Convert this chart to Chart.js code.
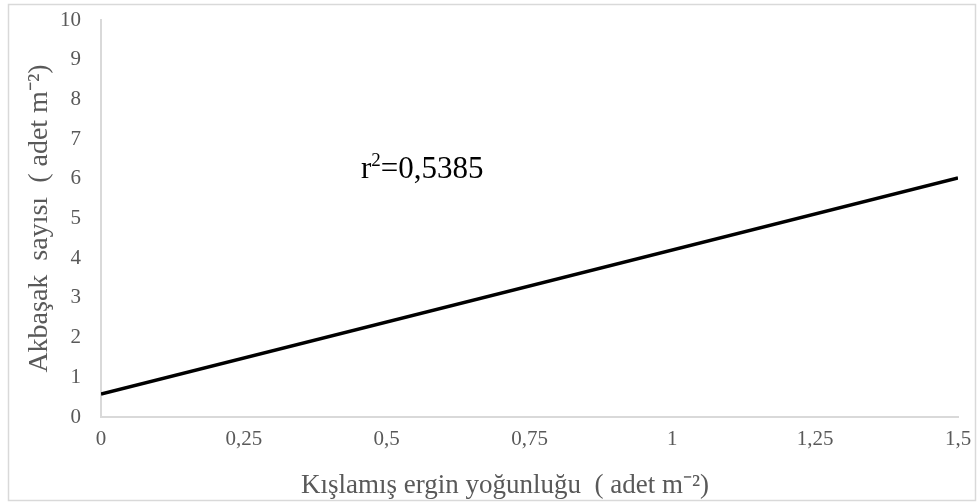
<!DOCTYPE html>
<html>
<head>
<meta charset="utf-8">
<script src="https://cdn.jsdelivr.net/npm/chart.js@4"></script>
<style>
  html, body { margin: 0; padding: 0; background: #fff; }
  #wrap { width: 979px; height: 504px; }
</style>
</head>
<body>
<div id="wrap"><canvas id="chart" width="979" height="504"></canvas></div>
<script>
// regression line end points
const xValues = [0, 1.5];
const yValues = [0.58, 6.02];

const xTickValues = [0, 0.25, 0.5, 0.75, 1, 1.25, 1.5];
const yTickValues = [0, 1, 2, 3, 4, 5, 6, 7, 8, 9, 10];

const r2Text = '0,5385';
const xTitle = 'Kışlamış ergin yoğunluğu  ( adet m⁻²)';
const yTitle = 'Akbaşak  sayısı  ( adet m⁻²)';

const serif = "'Liberation Serif', 'Times New Roman', serif";
const gray = '#595959';

const points = xValues.map((x, i) => ({ x: x, y: yValues[i] }));

const frame = {
    id: 'frame',
    beforeDraw(chart) {
        const ctx = chart.ctx;
        ctx.save();
        ctx.fillStyle = '#fff';
        ctx.fillRect(0, 0, chart.width, chart.height);
        ctx.strokeStyle = '#d9d9d9';
        ctx.lineWidth = 1.5;
        ctx.strokeRect(8.5, 4.5, 967, 496);
        ctx.restore();
    }
};

// x title sits a little left of the plot centre in the original
const xTitleLabel = {
    id: 'xTitleLabel',
    afterDraw(chart) {
        const ctx = chart.ctx;
        ctx.save();
        ctx.fillStyle = gray;
        ctx.font = '27px ' + serif;
        ctx.textAlign = 'center';
        ctx.textBaseline = 'middle';
        ctx.fillText(xTitle, 505, 486);
        ctx.restore();
    }
};

const r2Label = {
    id: 'r2Label',
    afterDatasetsDraw(chart) {
        const ctx = chart.ctx;
        const x = chart.scales.x.getPixelForValue(0.455);
        const y = chart.scales.y.getPixelForValue(6.02);
        ctx.save();
        ctx.fillStyle = '#000';
        ctx.textBaseline = 'alphabetic';
        ctx.font = '31px ' + serif;
        ctx.fillText('r', x, y);
        let w = ctx.measureText('r').width;
        ctx.font = '19px ' + serif;
        ctx.fillText('2', x + w, y - 12);
        w += ctx.measureText('2').width;
        ctx.font = '31px ' + serif;
        ctx.fillText('=' + r2Text, x + w, y);
        ctx.restore();
    }
};

new Chart(document.getElementById('chart'), {
    type: 'scatter',
    data: {
        datasets: [{
            data: points,
            showLine: true,
            borderColor: '#000',
            borderWidth: 3.5,
            pointRadius: 0,
            fill: false
        }]
    },
    options: {
        responsive: false,
        animation: false,
        layout: { padding: { left: 0, top: 20, right: 21, bottom: 0 } },
        plugins: { legend: { display: false }, tooltip: { enabled: false } },
        scales: {
            x: {
                type: 'linear',
                min: 0,
                max: 1.5,
                afterBuildTicks: s => { s.ticks = xTickValues.map(v => ({ value: v })); },
                afterFit: s => { s.height = 87; s.paddingLeft = 0; s.paddingRight = 0; },
                grid: { display: false, drawTicks: false },
                border: { display: true, color: '#d9d9d9', width: 2 },
                ticks: {
                    padding: 10,
                    color: gray,
                    font: { family: serif, size: 21 },
                    maxRotation: 0,
                    callback: v => String(v).replace('.', ',')
                },
                title: { display: false, text: xTitle }
            },
            y: {
                min: 0,
                max: 10,
                afterBuildTicks: s => { s.ticks = yTickValues.map(v => ({ value: v })); },
                afterFit: s => { s.width = 101; s.paddingTop = 0; s.paddingBottom = 0; },
                grid: { display: false, drawTicks: false },
                border: { display: true, color: '#d9d9d9', width: 2 },
                ticks: {
                    padding: 20,
                    color: gray,
                    font: { family: serif, size: 21 }
                },
                title: {
                    display: true,
                    text: yTitle,
                    color: gray,
                    font: { family: serif, size: 28 },
                    padding: { top: 23, bottom: 0 }
                }
            }
        }
    },
    plugins: [frame, xTitleLabel, r2Label]
});
</script>
</body>
</html>
